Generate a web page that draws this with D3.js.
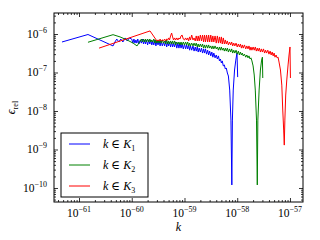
<!DOCTYPE html>
<html>
<head>
<meta charset="utf-8">
<script src="https://cdn.jsdelivr.net/npm/d3@7"></script>
<style>
  body { margin: 0; background: #fff; }
  svg { display: block; }
</style>
</head>
<body>
<svg width="320" height="240"></svg>
<script>
// [k, eps_rel]
const blue = [
  [4.76e-62,6.2e-7],[1.48e-61,9.7e-7],[4.42e-61,4.9e-7],
  [4.8e-61,6.2e-7],[5.2e-61,7.4e-7],[5.7e-61,6.2e-7],[6.2e-61,7.4e-7],[6.8e-61,6.2e-7],[7.5e-61,7.9e-7],[8.2e-61,6.6e-7],[9.0e-61,7.9e-7],
  [1.0e-60,7.4e-7],[1.05e-60,5.8e-7],[1.1e-60,7.4e-7],[1.15e-60,5.8e-7],[1.2e-60,7.0e-7],[1.25e-60,5.8e-7],[1.3e-60,7.4e-7],[1.37e-60,5.5e-7],
  [1.45e-60,7.0e-7],[1.52e-60,5.8e-7],[1.6e-60,7.4e-7],[1.67e-60,5.5e-7],[1.75e-60,7.0e-7],[1.82e-60,5.5e-7],[1.9e-60,7.0e-7],[2.0e-60,5.2e-7],
  [2.1e-60,7.0e-7],[2.2e-60,5.5e-7],[2.3e-60,7.0e-7],[2.4e-60,5.2e-7],[2.5e-60,6.6e-7],[2.62e-60,5.2e-7],[2.75e-60,7.0e-7],[2.87e-60,4.9e-7],
  [3.0e-60,6.6e-7],[3.15e-60,5.2e-7],[3.3e-60,6.6e-7],[3.45e-60,4.9e-7],[3.6e-60,6.6e-7],[3.8e-60,4.9e-7],[4.0e-60,6.2e-7],[4.2e-60,4.9e-7],
  [4.4e-60,6.6e-7],[4.6e-60,4.6e-7],[4.8e-60,6.2e-7],[5.0e-60,4.9e-7],[5.2e-60,6.2e-7],[5.45e-60,4.6e-7],[5.7e-60,6.2e-7],[5.95e-60,4.6e-7],
  [6.2e-60,5.8e-7],[6.5e-60,4.6e-7],[6.8e-60,6.2e-7],[7.15e-60,4.3e-7],[7.5e-60,5.8e-7],[7.85e-60,4.3e-7],[8.2e-60,5.8e-7],[8.6e-60,4.3e-7],
  [9.0e-60,5.5e-7],[9.5e-60,4.1e-7],
  [1.0e-59,5.5e-7],[1.05e-59,4.1e-7],[1.1e-59,5.2e-7],[1.15e-59,4.1e-7],[1.2e-59,5.2e-7],[1.25e-59,3.8e-7],[1.3e-59,4.9e-7],[1.37e-59,3.8e-7],
  [1.45e-59,4.9e-7],[1.52e-59,3.6e-7],[1.6e-59,4.6e-7],[1.67e-59,3.6e-7],[1.75e-59,4.6e-7],[1.82e-59,3.4e-7],[1.9e-59,4.3e-7],[2.0e-59,3.4e-7],
  [2.1e-59,4.3e-7],[2.2e-59,3.2e-7],[2.3e-59,4.1e-7],[2.4e-59,3.2e-7],[2.5e-59,4.1e-7],[2.62e-59,3.0e-7],[2.75e-59,3.8e-7],[2.87e-59,2.85e-7],
  [3.0e-59,3.6e-7],[3.15e-59,2.7e-7],[3.3e-59,3.4e-7],[3.45e-59,2.5e-7],[3.6e-59,3.2e-7],[3.8e-59,2.4e-7],[4.0e-59,2.85e-7],[4.2e-59,2.24e-7],
  [4.4e-59,2.7e-7],[4.6e-59,2.0e-7],[4.8e-59,2.24e-7],[5.0e-59,1.77e-7],[5.2e-59,2.0e-7],[5.45e-59,1.48e-7],[5.7e-59,1.57e-7],[5.95e-59,1.23e-7],
  [6.2e-59,1.31e-7],[6.5e-59,9.7e-8],[6.8e-59,8.1e-8],
  [7.2e-59,3.5e-8],[7.6e-59,5.8e-9],[7.9e-59,1.2e-10],[8.1e-59,5.8e-9],[8.4e-59,3.5e-8],[8.9e-59,1.16e-7],[9.4e-59,2.1e-7],[9.9e-59,3.2e-7],[1.02e-58,7.6e-8]
];

const green = [
  [1.48e-61,6.1e-7],[4.42e-61,9.6e-7],[6.0e-61,8.4e-7],[8.15e-61,7.0e-7],[1.06e-60,5.8e-7],[1.26e-60,4.9e-7],
  [1.45e-60,6.6e-7],[1.52e-60,7.4e-7],[1.6e-60,6.2e-7],[1.67e-60,7.4e-7],[1.75e-60,6.2e-7],[1.82e-60,7.4e-7],[1.9e-60,6.2e-7],[2.0e-60,7.4e-7],
  [2.1e-60,6.2e-7],[2.2e-60,7.4e-7],[2.3e-60,6.2e-7],[2.4e-60,7.0e-7],[2.5e-60,6.2e-7],[2.62e-60,7.4e-7],[2.75e-60,5.8e-7],[2.87e-60,7.0e-7],
  [3.0e-60,5.8e-7],[3.15e-60,7.0e-7],[3.3e-60,5.8e-7],[3.45e-60,7.0e-7],[3.6e-60,5.8e-7],[3.8e-60,7.0e-7],[4.0e-60,5.8e-7],[4.2e-60,6.6e-7],
  [4.4e-60,5.5e-7],[4.6e-60,7.0e-7],[4.8e-60,5.5e-7],[5.0e-60,6.6e-7],[5.2e-60,5.5e-7],[5.45e-60,6.6e-7],[5.7e-60,5.5e-7],[5.95e-60,6.6e-7],
  [6.2e-60,5.5e-7],[6.5e-60,6.6e-7],[6.8e-60,5.2e-7],[7.15e-60,6.2e-7],[7.5e-60,5.5e-7],[7.85e-60,6.2e-7],[8.2e-60,5.2e-7],[8.6e-60,6.2e-7],
  [9.0e-60,5.2e-7],[9.5e-60,6.2e-7],
  [1.0e-59,5.2e-7],[1.05e-59,6.2e-7],[1.1e-59,5.2e-7],[1.15e-59,6.2e-7],[1.2e-59,4.9e-7],[1.25e-59,5.8e-7],[1.3e-59,4.9e-7],[1.37e-59,5.8e-7],
  [1.45e-59,4.9e-7],[1.52e-59,5.8e-7],[1.6e-59,4.9e-7],[1.67e-59,5.8e-7],[1.75e-59,4.6e-7],[1.82e-59,5.5e-7],[1.9e-59,4.6e-7],[2.0e-59,5.5e-7],
  [2.1e-59,4.6e-7],[2.2e-59,5.5e-7],[2.3e-59,4.3e-7],[2.4e-59,5.2e-7],[2.5e-59,4.3e-7],[2.62e-59,5.2e-7],[2.75e-59,4.3e-7],[2.87e-59,5.2e-7],
  [3.0e-59,4.3e-7],[3.15e-59,4.9e-7],[3.3e-59,4.1e-7],[3.45e-59,4.9e-7],[3.6e-59,4.1e-7],[3.8e-59,4.9e-7],[4.0e-59,4.1e-7],[4.2e-59,4.6e-7],
  [4.4e-59,3.8e-7],[4.6e-59,4.6e-7],[4.8e-59,3.8e-7],[5.0e-59,4.6e-7],[5.2e-59,3.8e-7],[5.45e-59,4.3e-7],[5.7e-59,3.6e-7],[5.95e-59,4.3e-7],
  [6.2e-59,3.6e-7],[6.5e-59,4.3e-7],[6.8e-59,3.4e-7],[7.15e-59,4.1e-7],[7.5e-59,3.4e-7],[7.85e-59,4.1e-7],[8.2e-59,3.2e-7],[8.6e-59,3.8e-7],
  [9.0e-59,3.2e-7],[9.5e-59,3.8e-7],
  [1.0e-58,3.0e-7],[1.05e-58,3.6e-7],[1.1e-58,2.85e-7],[1.15e-58,3.4e-7],[1.2e-58,2.85e-7],[1.25e-58,3.2e-7],[1.3e-58,2.7e-7],[1.37e-58,3.0e-7],
  [1.45e-58,2.5e-7],[1.52e-58,2.85e-7],[1.6e-58,2.4e-7],[1.67e-58,2.7e-7],[1.75e-58,2.24e-7],[1.82e-58,2.4e-7],[1.9e-58,2.0e-7],[2.0e-58,1.48e-7],
  [2.1e-58,8.6e-8],[2.2e-58,3.5e-8],[2.32e-58,5.8e-9],[2.4e-58,1.2e-10],[2.46e-58,5.8e-9],[2.6e-58,3.5e-8],[2.75e-58,1.16e-7],[2.9e-58,2.1e-7],
  [3.0e-58,2.5e-7],[3.05e-58,7.2e-8]
];

const red = [
  [2.4e-61,4.3e-7],[2.22e-60,1.2e-6],
  [3.0e-60,6.6e-7],[3.15e-60,7.0e-7],[3.3e-60,6.6e-7],[3.45e-60,7.4e-7],[3.6e-60,6.6e-7],[3.8e-60,7.0e-7],[4.0e-60,6.6e-7],[4.2e-60,7.4e-7],
  [4.4e-60,6.6e-7],[4.6e-60,7.4e-7],[4.8e-60,7.0e-7],[5.0e-60,7.9e-7],[5.2e-60,7.0e-7],[5.45e-60,8.9e-7],[5.7e-60,1.06e-6],[5.95e-60,8.4e-7],
  [6.2e-60,7.0e-7],[6.5e-60,7.9e-7],[6.8e-60,7.0e-7],[7.15e-60,7.9e-7],[7.5e-60,7.0e-7],[7.85e-60,7.9e-7],[8.2e-60,7.4e-7],[8.6e-60,8.9e-7],
  [9.0e-60,9.4e-7],[9.5e-60,7.4e-7],
  [1.0e-59,7.0e-7],[1.05e-59,7.9e-7],[1.1e-59,7.0e-7],[1.15e-59,7.9e-7],[1.2e-59,6.6e-7],[1.25e-59,8.4e-7],[1.3e-59,7.0e-7],[1.37e-59,9.4e-7],
  [1.45e-59,7.0e-7],[1.52e-59,7.9e-7],[1.6e-59,6.6e-7],[1.67e-59,8.9e-7],[1.75e-59,6.6e-7],[1.82e-59,8.9e-7],[1.9e-59,6.6e-7],[2.0e-59,9.4e-7],
  [2.1e-59,6.6e-7],[2.2e-59,9.4e-7],[2.3e-59,6.2e-7],[2.4e-59,9.4e-7],[2.5e-59,6.2e-7],[2.62e-59,9.4e-7],[2.75e-59,6.2e-7],[2.87e-59,9.4e-7],
  [3.0e-59,6.2e-7],[3.15e-59,9.4e-7],[3.3e-59,6.2e-7],[3.45e-59,8.9e-7],[3.6e-59,6.2e-7],[3.8e-59,8.9e-7],[4.0e-59,5.8e-7],[4.2e-59,8.9e-7],
  [4.4e-59,5.8e-7],[4.6e-59,8.4e-7],[4.8e-59,5.8e-7],[5.0e-59,8.4e-7],[5.2e-59,5.5e-7],[5.45e-59,7.9e-7],[5.7e-59,5.5e-7],[5.95e-59,7.0e-7],
  [6.2e-59,5.5e-7],[6.5e-59,6.6e-7],[6.8e-59,5.2e-7],[7.15e-59,6.2e-7],[7.5e-59,5.2e-7],[7.85e-59,6.2e-7],[8.2e-59,4.9e-7],[8.6e-59,5.8e-7],
  [9.0e-59,4.9e-7],[9.5e-59,5.8e-7],
  [1.0e-58,4.6e-7],[1.05e-58,5.5e-7],[1.1e-58,4.6e-7],[1.15e-58,5.5e-7],[1.2e-58,4.3e-7],[1.25e-58,5.2e-7],[1.3e-58,4.3e-7],[1.37e-58,5.2e-7],
  [1.45e-58,4.1e-7],[1.52e-58,4.9e-7],[1.6e-58,4.1e-7],[1.67e-58,4.9e-7],[1.75e-58,3.8e-7],[1.82e-58,4.6e-7],[1.9e-58,3.8e-7],[2.0e-58,4.6e-7],
  [2.1e-58,3.8e-7],[2.2e-58,4.6e-7],[2.3e-58,3.6e-7],[2.4e-58,4.3e-7],[2.5e-58,3.6e-7],[2.62e-58,4.3e-7],[2.75e-58,3.4e-7],[2.87e-58,4.1e-7],
  [3.0e-58,3.4e-7],[3.15e-58,4.1e-7],[3.3e-58,3.2e-7],[3.45e-58,3.8e-7],[3.6e-58,3.2e-7],[3.8e-58,3.8e-7],[4.0e-58,3.0e-7],[4.2e-58,3.6e-7],
  [4.4e-58,2.85e-7],[4.6e-58,3.4e-7],[4.8e-58,2.7e-7],[5.0e-58,3.2e-7],[5.2e-58,2.5e-7],[5.45e-58,2.85e-7],[5.7e-58,2.4e-7],[5.95e-58,2.5e-7],
  [6.2e-58,1.87e-7],[6.6e-58,1.16e-7],[7.0e-58,4.7e-8],[7.3e-58,1.06e-8],[7.6e-58,3.2e-9],[7.8e-58,1.3e-9],[8.0e-58,5.8e-9],[8.3e-58,2.6e-8],
  [8.7e-58,6.4e-8],[9.2e-58,1.57e-7],[9.6e-58,2.85e-7],[1.0e-57,4.6e-7],[1.02e-57,7.2e-8]
];

const series = [blue, green, red];
const seriesSub = ["1", "2", "3"];
const colors = ["#0000ff", "#008000", "#ff0000"];

const xMajor = [1e-61, 1e-60, 1e-59, 1e-58, 1e-57];
const xMajorExp = ["\u221261", "\u221260", "\u221259", "\u221258", "\u221257"];
const yMajor = [1e-10, 1e-9, 1e-8, 1e-7, 1e-6];
const yMajorExp = ["\u221210", "\u22129", "\u22128", "\u22127", "\u22126"];

const plotLeft = 54, plotRight = 303, plotTop = 13, plotBottom = 202;
const serif = "'Liberation Serif', 'DejaVu Serif', serif";

const svg = d3.select("svg");

const x = d3.scaleLog()
            .domain([Math.pow(10, -61.474), Math.pow(10, -56.753)])
            .range([plotLeft, plotRight]);
const y = d3.scaleLog()
            .domain([Math.pow(10, -10.364), Math.pow(10, -5.4545)])
            .range([plotBottom, plotTop]);

svg.append("clipPath").attr("id", "clip")
   .append("rect")
   .attr("x", plotLeft).attr("y", plotTop)
   .attr("width", plotRight - plotLeft).attr("height", plotBottom - plotTop);

let line = d3.line()
             .x(d => x(d[0]))
             .y(d => y(d[1]));

svg.append("g")
   .attr("clip-path", "url(#clip)")
   .selectAll("path")
   .data(series)
   .enter()
   .append("path")
   .attr("d", line)
   .attr("fill", "none")
   .attr("stroke", (d, i) => colors[i])
   .attr("stroke-width", 1)
   .attr("stroke-linejoin", "round");

// ticks, inward on all four sides
function isMajor(v) {
  let m = v / Math.pow(10, Math.floor(Math.log10(v) + 1e-9));
  return Math.abs(m - 1) < 1e-6;
}
const xMinor = x.ticks().filter(v => !isMajor(v));
const yMinor = y.ticks().filter(v => !isMajor(v));

function add_ticks(axistype, scale, tx, ty, ticks, size) {
  let g = svg.append("g")
     .attr("transform", "translate(" + tx + "," + ty + ")")
     .call(axistype(scale).tickValues(ticks).tickSize(size).tickFormat(""));
  g.select(".domain").remove();
  g.selectAll("line").attr("stroke", "#000").attr("stroke-width", 0.8);
}

add_ticks(d3.axisBottom, x, 0, plotBottom, xMajor, -4);
add_ticks(d3.axisBottom, x, 0, plotBottom, xMinor, -2);
add_ticks(d3.axisTop, x, 0, plotTop, xMajor, -4);
add_ticks(d3.axisTop, x, 0, plotTop, xMinor, -2);
add_ticks(d3.axisLeft, y, plotLeft, 0, yMajor, -4);
add_ticks(d3.axisLeft, y, plotLeft, 0, yMinor, -2);
add_ticks(d3.axisRight, y, plotRight, 0, yMajor, -4);
add_ticks(d3.axisRight, y, plotRight, 0, yMinor, -2);

svg.append("rect")
   .attr("x", plotLeft).attr("y", plotTop)
   .attr("width", plotRight - plotLeft).attr("height", plotBottom - plotTop)
   .attr("fill", "none").attr("stroke", "#000").attr("stroke-width", 1);

// tick labels
xMajor.forEach((v, i) => {
  let t = svg.append("text")
     .attr("x", x(v)).attr("y", 217)
     .attr("text-anchor", "middle")
     .attr("font-family", serif).attr("font-size", 11.5);
  t.append("tspan").text("10");
  t.append("tspan").attr("dy", -5).attr("font-size", 8).text(xMajorExp[i]);
});

yMajor.forEach((v, i) => {
  let t = svg.append("text")
     .attr("x", 47).attr("y", y(v) + 4)
     .attr("text-anchor", "end")
     .attr("font-family", serif).attr("font-size", 11.5);
  t.append("tspan").text("10");
  t.append("tspan").attr("dy", -5).attr("font-size", 8).text(yMajorExp[i]);
});

// axis labels
svg.append("text")
   .attr("x", (plotLeft + plotRight) / 2).attr("y", 231)
   .attr("text-anchor", "middle")
   .attr("font-family", serif).attr("font-size", 12)
   .attr("font-style", "italic")
   .text("k");

let yl = svg.append("text")
   .attr("transform", "translate(15," + ((plotTop + plotBottom) / 2) + ") rotate(-90)")
   .attr("text-anchor", "middle")
   .attr("font-family", serif).attr("font-size", 12);
yl.append("tspan").attr("font-style", "italic").text("\u03f5");
yl.append("tspan").attr("dy", 3).attr("font-size", 8).text("rel");

// legend
let legend = svg.append("g");
legend.append("rect")
   .attr("x", 61).attr("y", 133).attr("width", 87).attr("height", 64)
   .attr("fill", "#fff").attr("stroke", "#000").attr("stroke-width", 1);

let entries = legend.selectAll("g.entry")
   .data(seriesSub)
   .enter()
   .append("g")
   .attr("transform", (d, i) => "translate(0," + (144 + i * 21) + ")");

entries.append("line")
   .attr("x1", 69).attr("x2", 90).attr("y1", 0).attr("y2", 0)
   .attr("stroke", (d, i) => colors[i]).attr("stroke-width", 1);

let lt = entries.append("text")
   .attr("x", 103).attr("y", 4)
   .attr("font-family", serif).attr("font-size", 12);
lt.append("tspan").attr("font-style", "italic").text("k");
lt.append("tspan").text(" \u2208 ");
lt.append("tspan").attr("font-style", "italic").text("K");
lt.append("tspan").attr("dy", 3).attr("font-size", 8).text(d => d);
</script>
</body>
</html>
